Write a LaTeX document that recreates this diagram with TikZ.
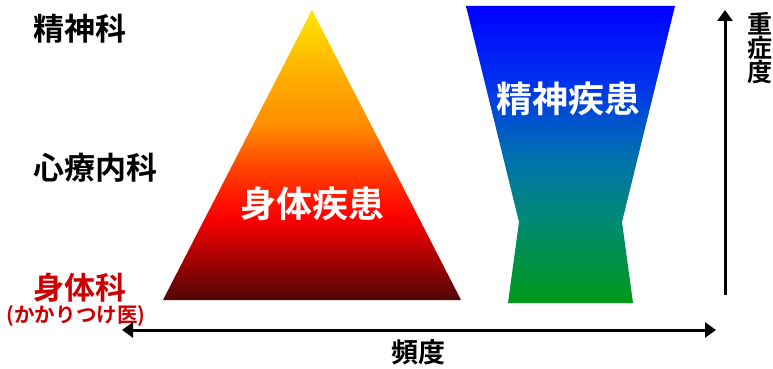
\documentclass[tikz,border=0pt]{standalone}
\usepackage{fontspec}
\newfontfamily\cjk{Noto Sans CJK JP Bold}
\usetikzlibrary{arrows.meta}
\definecolor{labred}{HTML}{CC0000}
\pgfdeclareverticalshading{triShade}{100bp}{%
  color(0bp)=(rgb,255:red,80;green,5;blue,5);
  color(25bp)=(rgb,255:red,80;green,5;blue,5);
  color(39.5bp)=(rgb,255:red,255;green,0;blue,0);
  color(47.5bp)=(rgb,255:red,255;green,64;blue,0);
  color(55bp)=(rgb,255:red,255;green,140;blue,0);
  color(65bp)=(rgb,255:red,255;green,180;blue,0);
  color(75bp)=(rgb,255:red,255;green,232;blue,0);
  color(100bp)=(rgb,255:red,255;green,232;blue,0)}
\pgfdeclareverticalshading{vaseShade}{100bp}{%
  color(0bp)=(rgb,255:red,0;green,153;blue,24);
  color(25bp)=(rgb,255:red,0;green,153;blue,24);
  color(40bp)=(rgb,255:red,0;green,136;blue,122);
  color(50bp)=(rgb,255:red,0;green,112;blue,176);
  color(62.5bp)=(rgb,255:red,0;green,48;blue,240);
  color(75bp)=(rgb,255:red,0;green,0;blue,255);
  color(100bp)=(rgb,255:red,0;green,0;blue,255)}
\tikzset{
  lab/.style={font=\cjk\fontsize{31}{34}\selectfont, text=black, inner sep=0pt},
  redlab/.style={lab, text=labred},
  inlab/.style={font=\cjk\fontsize{36}{40}\selectfont, text=white, inner sep=0pt},
  axis/.style={line width=3pt, draw=black},
  axtip/.tip={Triangle[width=15pt,length=11pt]}
}
\begin{document}
\begin{tikzpicture}[x=1pt,y=-1pt]
\useasboundingbox[fill=white] (0,0) rectangle (773,369);
% triangle
\shade[shading=triShade] (312,10) -- (461,300) -- (163,300) -- cycle;
\node[inlab] (tritext) at (312,204) {身体疾患};
% vase
\shade[shading=vaseShade] (466,6) -- (675,6) -- (622,222) -- (633,303) -- (508,303) -- (519,222) -- cycle;
\node[inlab] (vasetext) at (568,99) {精神疾患};
% left labels
\node[lab] (psy) at (80,29) {精神科};
\node[lab] (psm) at (95,168) {心療内科};
\node[redlab] (body) at (80,288) {身体科};
\node[font=\cjk\fontsize{20.5}{24}\selectfont, text=labred, inner sep=0pt] (gp) at (76,316) {(かかりつけ医)};
% axes
\coordinate (vbot) at (725,295);
\coordinate (vtop) at (725,10);
\draw[axis, -axtip] (vbot) -- (vtop);
\node[font=\cjk\fontsize{25}{25}\selectfont, inner sep=0pt, align=center, anchor=north] (sev) at (760,12) {重\\[-1pt]症\\[-1pt]度};
\coordinate (hl) at (122,330);
\coordinate (hr) at (716,330);
\draw[axis, axtip-axtip] (hl) -- (hr);
\node[font=\cjk\fontsize{27}{30}\selectfont, inner sep=0pt] (freq) at (418,352) {頻度};
\end{tikzpicture}
\end{document}
